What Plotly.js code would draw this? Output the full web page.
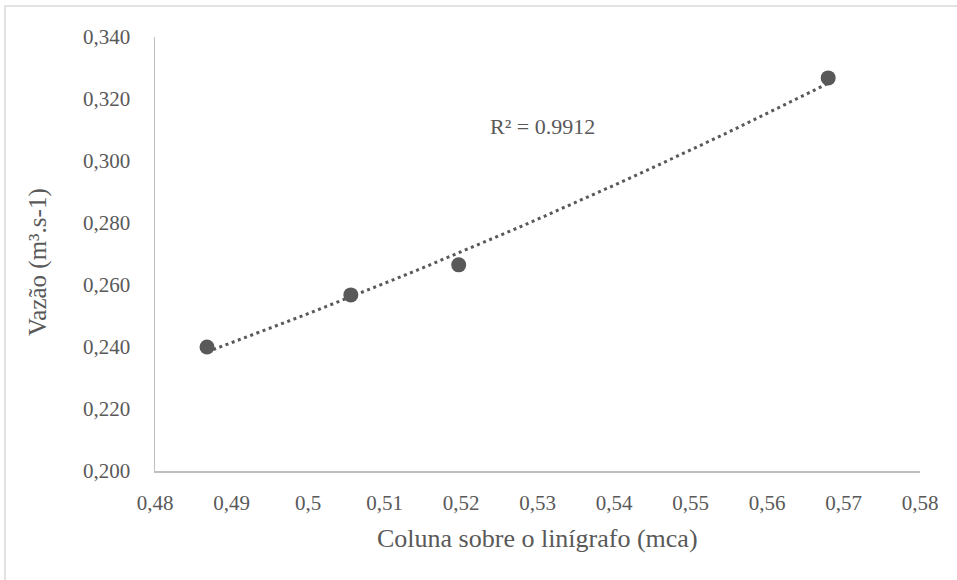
<!DOCTYPE html>
<html>
<head>
<meta charset="utf-8">
<script src="https://cdn.plot.ly/plotly-3.0.1.min.js"></script>
<style>
  html, body { margin: 0; padding: 0; background: #fff; }
  #chart { width: 957px; height: 580px; }
</style>
</head>
<body>
<div id="chart"></div>
<script>
// Data
const coluna = [0.4868, 0.5056, 0.5197, 0.5680];   // Coluna sobre o linígrafo (mca)
const vazao  = [0.2400, 0.2568, 0.2665, 0.3268];   // Vazão (m³.s-1)
const r2Label = "R² = 0.9912";
const xTitle = "Coluna sobre o linígrafo (mca)";
const yTitle = "Vazão (m³.s-1)";

// Exponential trendline (least squares on ln y), as in the spreadsheet chart
const n = coluna.length;
const lnY = vazao.map(v => Math.log(v));
const mx = coluna.reduce((a, b) => a + b, 0) / n;
const my = lnY.reduce((a, b) => a + b, 0) / n;
let sxy = 0, sxx = 0;
for (let i = 0; i < n; i++) { sxy += (coluna[i] - mx) * (lnY[i] - my); sxx += (coluna[i] - mx) ** 2; }
const b = sxy / sxx, a = my - b * mx;
const xmin = Math.min(...coluna), xmax = Math.max(...coluna);
const trendX = [], trendY = [];
for (let k = 0; k <= 40; k++) {
  const x = xmin + (xmax - xmin) * k / 40;
  trendX.push(x); trendY.push(Math.exp(a + b * x));
}

const grey = '#595959';
const serif = 'Times New Roman';

const traces = [
  { x: trendX, y: trendY, mode: 'lines', type: 'scatter', hoverinfo: 'skip',
    line: { color: grey, width: 3, dash: '3px,3.6px' } },
  { x: coluna, y: vazao, mode: 'markers', type: 'scatter',
    marker: { color: grey, size: 15 } }
];

const layout = {
  width: 957, height: 580,
  margin: { l: 155, r: 37, t: 37, b: 109 },
  paper_bgcolor: '#fff', plot_bgcolor: '#fff',
  showlegend: false,
  separators: ',.',
  font: { family: serif, color: grey },
  xaxis: {
    range: [0.48, 0.58], dtick: 0.01, tick0: 0.48,
    showgrid: false, zeroline: false,
    showline: true, linecolor: '#bfbfbf', linewidth: 1.5,
    ticks: '', ticklabelstandoff: 12,
    tickfont: { family: serif, size: 21, color: grey }
  },
  yaxis: {
    range: [0.2, 0.34], dtick: 0.02, tick0: 0.2, tickformat: '.3f',
    showgrid: false, zeroline: false,
    showline: true, linecolor: '#bfbfbf', linewidth: 1.5,
    ticks: '', ticklabelstandoff: 19,
    tickfont: { family: serif, size: 21, color: grey }
  },
  annotations: [
    { text: r2Label, xref: 'x', yref: 'y', x: 0.5307, y: 0.311,
      showarrow: false, font: { family: serif, size: 22, color: grey } },
    { text: xTitle, xref: 'paper', yref: 'paper', x: 0.5, y: -67 / 434,
      yanchor: 'middle', showarrow: false, font: { family: serif, size: 26, color: grey } },
    { text: yTitle, xref: 'paper', yref: 'paper', x: (38 - 155) / 765, y: (471 - 262) / 434,
      xanchor: 'center', yanchor: 'middle', textangle: -90, showarrow: false,
      font: { family: serif, size: 25, color: grey } }
  ],
  shapes: [
    { type: 'rect', xref: 'paper', yref: 'paper', layer: 'below',
      x0: (5 - 155) / 765, x1: (970 - 155) / 765,
      y0: (471 - 600) / 434, y1: (471 - 6) / 434,
      line: { color: '#d9d9d9', width: 1.5 }, fillcolor: 'rgba(0,0,0,0)' }
  ]
};

Plotly.newPlot('chart', traces, layout, { displayModeBar: false, staticPlot: true });
</script>
</body>
</html>
